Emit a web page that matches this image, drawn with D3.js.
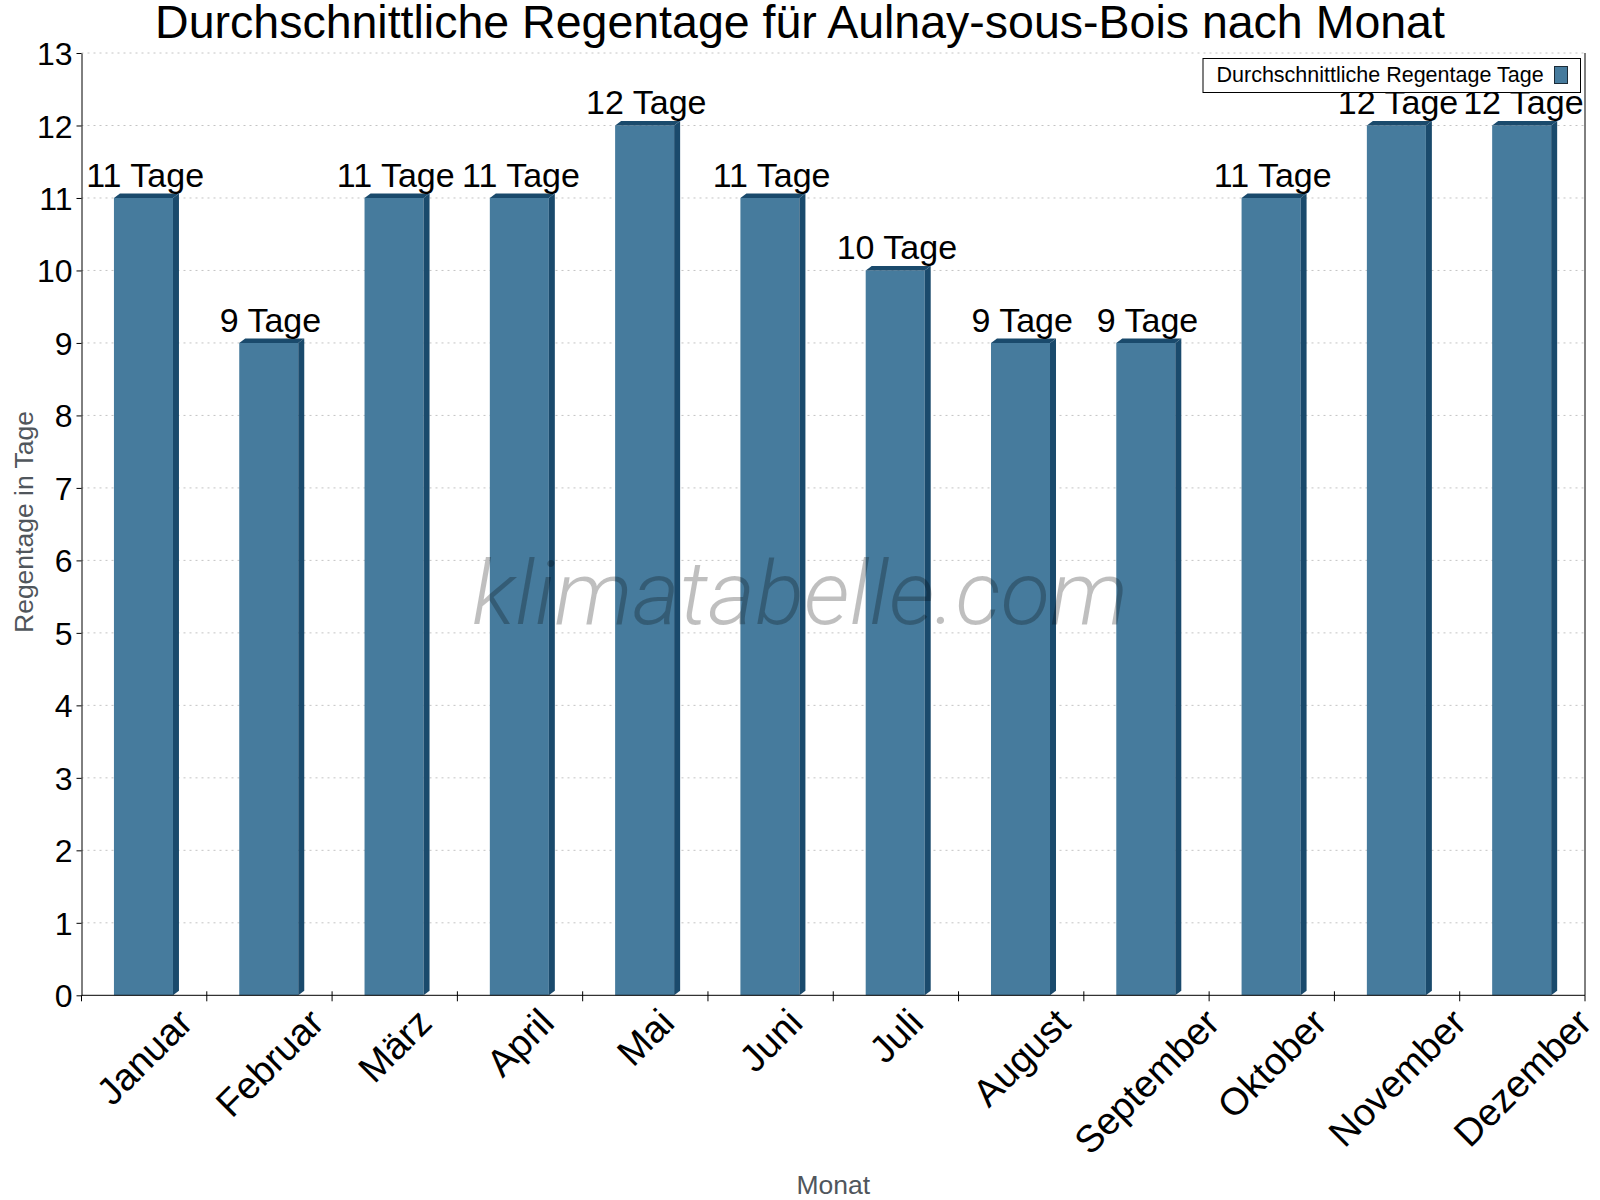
<!DOCTYPE html>
<html>
<head>
<meta charset="utf-8">
<script src="https://cdn.jsdelivr.net/npm/d3@7"></script>
<style>
    body { margin: 0; background: #fff; }
    svg { display: block; font-family: "Liberation Sans", Arial, sans-serif; }
</style>
</head>
<body>
<svg id="chart" width="1600" height="1200"></svg>
<script>
// Regentage pro Monat
let months = ['Januar', 'Februar', 'März', 'April', 'Mai', 'Juni', 'Juli', 'August', 'September', 'Oktober', 'November', 'Dezember']
let rainDays = [11, 9, 11, 11, 12, 11, 10, 9, 9, 11, 12, 12]
let yTicks = [0, 1, 2, 3, 4, 5, 6, 7, 8, 9, 10, 11, 12, 13]

let titleText = 'Durchschnittliche Regentage für Aulnay-sous-Bois nach Monat'
let legendText = 'Durchschnittliche Regentage Tage'

let frontColor = '#467b9d'
let darkColor = '#1a4a6c'

let svg = d3.select('#chart')

let plotLeft = 81.5
let plotRight = 1585
let plotTop = 53
let plotBottom = 995.3

let x = d3.scaleBand()
    .domain(months)
    .range([plotLeft, plotRight])

let y = d3.scaleLinear()
    .domain([0, 13])
    .range([plotBottom, plotTop])

// gridlines
svg.append('g')
    .selectAll('line')
    .data(yTicks.filter(t => t > 0))
    .enter()
    .append('line')
    .attr('x1', plotLeft)
    .attr('x2', plotRight)
    .attr('y1', d => y(d))
    .attr('y2', d => y(d))
    .attr('stroke', '#c4c4c4')
    .attr('stroke-dasharray', '2,4')

// bars with a small 3d edge
let bw = x.bandwidth()
let depthX = 6
let depthY = 4.5
let bars = svg.append('g')
    .selectAll('g')
    .data(rainDays)
    .enter()
    .append('g')

let bx0 = (d, i) => x(months[i]) + bw * 0.259
let bx1 = (d, i) => x(months[i]) + bw * 0.259 + bw * 0.471

bars.append('rect')
    .attr('x', bx0)
    .attr('y', d => y(d))
    .attr('width', bw * 0.471)
    .attr('height', d => y(0) - y(d))
    .attr('fill', frontColor)

bars.append('path')
    .attr('d', (d, i) => {
        let b = bx1(d, i), t = y(d), z = y(0)
        return `M${b},${t}L${b + depthX},${t - depthY}L${b + depthX},${z - depthY}L${b},${z}Z`
    })
    .attr('fill', darkColor)

bars.append('path')
    .attr('d', (d, i) => {
        let a = bx0(d, i), b = bx1(d, i), t = y(d)
        return `M${a},${t}L${a + depthX},${t - depthY}L${b + depthX},${t - depthY}L${b},${t}Z`
    })
    .attr('fill', darkColor)

// value labels
svg.append('g')
    .selectAll('text')
    .data(rainDays)
    .enter()
    .append('text')
    .attr('x', (d, i) => x(months[i]) + bw / 2 + 1)
    .attr('y', d => y(d) - 11)
    .attr('text-anchor', 'middle')
    .attr('font-size', 34)
    .attr('fill', '#000')
    .text(d => d + ' Tage')

// watermark
svg.append('text')
    .attr('x', 800)
    .attr('y', 624)
    .attr('text-anchor', 'middle')
    .attr('font-family', 'Roboto, "Liberation Sans Narrow", sans-serif')
    .attr('font-weight', 300)
    .attr('font-style', 'italic')
    .attr('font-size', 88)
    .attr('textLength', 656)
    .attr('lengthAdjust', 'spacingAndGlyphs')
    .attr('fill', '#000')
    .attr('fill-opacity', 0.25)
    .text('klimatabelle.com')

// y axis
let yAxis = d3.axisLeft(y)
    .tickValues(yTicks)
    .tickSize(5)
    .tickSizeOuter(0)
    .tickPadding(4)
    .tickFormat(d3.format('d'))

let yG = svg.append('g')
    .attr('transform', `translate(${plotLeft},0)`)
    .call(yAxis)
yG.selectAll('text')
    .attr('font-size', 32)
    .attr('font-family', '"Liberation Sans", Arial, sans-serif')
    .attr('fill', '#000')
    .attr('dy', '0.36em')
yG.selectAll('line').attr('stroke', '#000')
yG.select('.domain').attr('stroke', '#000')

// right border
svg.append('line')
    .attr('x1', plotRight)
    .attr('x2', plotRight)
    .attr('y1', plotTop)
    .attr('y2', plotBottom)
    .attr('stroke', '#000')

// x axis
svg.append('line')
    .attr('x1', plotLeft)
    .attr('x2', plotRight)
    .attr('y1', plotBottom)
    .attr('y2', plotBottom)
    .attr('stroke', '#000')

let edges = months.map(m => x(m)).concat([plotRight])
svg.append('g')
    .selectAll('line')
    .data(edges)
    .enter()
    .append('line')
    .attr('x1', d => d)
    .attr('x2', d => d)
    .attr('y1', (d, i) => (i == 0 || i == edges.length - 1) ? plotBottom : plotBottom - 4)
    .attr('y2', plotBottom + 6)
    .attr('stroke', '#000')

let labelSize = 38
let xLabels = svg.append('g')
    .selectAll('text')
    .data(months)
    .enter()
    .append('text')
    .attr('text-anchor', 'middle')
    .attr('dy', '0.35em')
    .attr('font-size', labelSize)
    .attr('fill', '#000')
    .text(d => d)

xLabels.attr('transform', function (d) {
    let len = this.getComputedTextLength()
    let cx = x(d) + bw / 2
    let cy = 1011 + 0.121 * labelSize + 0.354 * len
    return `translate(${cx},${cy}) rotate(-45)`
})

// axis titles
svg.append('text')
    .attr('x', (plotLeft + plotRight) / 2)
    .attr('y', 1194)
    .attr('text-anchor', 'middle')
    .attr('font-size', 26.5)
    .attr('fill', '#50565c')
    .text('Monat')

svg.append('text')
    .attr('transform', 'translate(33,522) rotate(-90)')
    .attr('text-anchor', 'middle')
    .attr('font-size', 26.5)
    .attr('fill', '#50565c')
    .text('Regentage in Tage')

// title
svg.append('text')
    .attr('x', 800)
    .attr('y', 38)
    .attr('text-anchor', 'middle')
    .attr('font-size', 46.5)
    .attr('fill', '#000')
    .text(titleText)

// legend
let legend = svg.append('g')
legend.append('rect')
    .attr('x', 1203)
    .attr('y', 58.5)
    .attr('width', 377.5)
    .attr('height', 34)
    .attr('fill', '#fff')
    .attr('stroke', '#000')
legend.append('text')
    .attr('x', 1216.5)
    .attr('y', 82)
    .attr('font-size', 21.5)
    .attr('fill', '#000')
    .text(legendText)
legend.append('rect')
    .attr('x', 1554.5)
    .attr('y', 66.5)
    .attr('width', 13)
    .attr('height', 17)
    .attr('fill', frontColor)
    .attr('stroke', '#1c2c38')
</script>
</body>
</html>
